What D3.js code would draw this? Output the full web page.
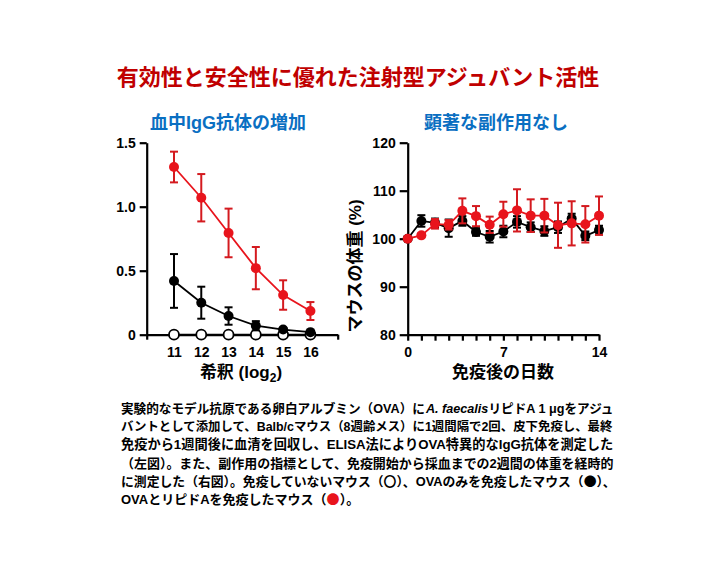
<!DOCTYPE html>
<html><head><meta charset="utf-8">
<script src="https://cdn.jsdelivr.net/npm/d3@7"></script>
<style>
body{margin:0;background:#fff;}
svg{display:block;font-family:"Liberation Sans","Noto Sans CJK JP",Arial,sans-serif;font-weight:bold;}
</style></head><body>
<svg id="c" width="718" height="569"></svg>
<script>
// ---- data ----
const dilution = [11, 12, 13, 14, 15, 16];
const igNone = [0, 0, 0, 0, 0, 0];
const igOVA = [0.42, 0.25, 0.146, 0.07, 0.04, 0.02];
const igOVAerr = [0.21, 0.125, 0.068, 0.036, 0.01, 0.005];
const igLipid = [1.31, 1.07, 0.795, 0.52, 0.31, 0.185];
const igLipidErr = [0.12, 0.185, 0.19, 0.165, 0.115, 0.07];
const leftYTicks = [0, 0.5, 1.0, 1.5];
const leftYTickLabels = ["0", "0.5", "1.0", "1.5"];

const days = [0,1,2,3,4,5,6,7,8,9,10,11,12,13,14];
const wOVA = [100, 103.7, 103.3, 102.2, 103.7, 101.4, 100.4, 101.5, 103.5, 102.4, 101.6, 102.4, 104.2, 100.6, 101.8];
const wOVAerr = [0, 1.2, 0.9, 1.8, 1.0, 0.8, 1.2, 1.2, 1.2, 1.0, 1.0, 1.2, 1.0, 0.9, 0.9];
const wLipid = [100, 100.7, 103.1, 102.9, 105.8, 104.7, 102.9, 105.1, 105.9, 104.8, 104.8, 102.8, 103.2, 103.0, 104.8];
const wLipidErr = [0, 0.4, 1.0, 1.0, 2.6, 2.1, 1.7, 2.6, 4.4, 3.4, 3.5, 4.7, 4.6, 3.8, 4.0];
const rightYTicks = [80, 90, 100, 110, 120];
const rightXTicks = [0, 7, 14];

const title = "有効性と安全性に優れた注射型アジュバント活性";
const subLeft = "血中IgG抗体の増加";
const subRight = "顕著な副作用なし";

const RED = "#e8141c", RED_ERR = "#d41a1f", BLUE = "#0a6fc2";
const svg = d3.select("#c");

svg.append("text").attr("x", 358).attr("y", 85).attr("text-anchor","middle")
  .attr("font-size", 22).attr("fill", "#c00000").text(title);
svg.append("text").attr("x", 228).attr("y", 129).attr("text-anchor","middle")
  .attr("font-size", 18).attr("fill", BLUE).text(subLeft);
svg.append("text").attr("x", 496).attr("y", 129).attr("text-anchor","middle")
  .attr("font-size", 18).attr("fill", BLUE).text(subRight);

// ---- left chart ----
const xL = d3.scaleLinear().domain([10, 17]).range([146.7, 337.7]);
const yL = d3.scaleLinear().domain([0, 1.5]).range([334.7, 142.7]);
const gL = svg.append("g");

const axL = gL.append("g").attr("transform", `translate(${xL(10)},0)`)
  .call(d3.axisLeft(yL).tickValues(leftYTicks).tickFormat((d,i)=>leftYTickLabels[i]).tickSize(7).tickSizeOuter(0));
const axLx = gL.append("g").attr("transform", `translate(0,${yL(0)})`)
  .call(d3.axisBottom(xL).tickValues(d3.range(10, 18)).tickFormat(d => dilution.includes(d) ? d : "").tickSize(5).tickSizeOuter(0).tickPadding(7));

// ---- right chart ----
const xR = d3.scaleLinear().domain([0, 14]).range([407.7, 599]);
const yR = d3.scaleLinear().domain([80, 120]).range([334.7, 142.7]);
const gR = svg.append("g");
const axR = gR.append("g").attr("transform", `translate(${xR(0)},0)`)
  .call(d3.axisLeft(yR).tickValues(rightYTicks).tickSize(8).tickSizeOuter(0));
const axRx = gR.append("g").attr("transform", `translate(0,${yR(80)})`)
  .call(d3.axisBottom(xR).tickValues(days).tickFormat(d => rightXTicks.includes(d) ? d : "").tickSize(6).tickSizeOuter(0).tickPadding(6));

[axL, axLx, axR, axRx].forEach(a => {
  a.selectAll("path,line").attr("stroke", "#000").attr("stroke-width", 2.2);
  a.selectAll("text").attr("font-size", 14).attr("font-weight","bold").attr("fill","#000")
    .attr("font-family", '"Liberation Sans",Arial,sans-serif');
});
axL.selectAll("text").attr("dx", -1);
axR.selectAll("text").attr("dx", -1);

// axis titles
const tL = svg.append("text").attr("x", 241).attr("y", 378).attr("text-anchor","middle").attr("font-size", 17);
tL.append("tspan").text("希釈 (log");
tL.append("tspan").attr("font-size", 12).attr("dy", 4).text("2");
tL.append("tspan").attr("dy", -4).text(")");
svg.append("text").attr("x", 503).attr("y", 378).attr("text-anchor","middle").attr("font-size", 17).text("免疫後の日数");
svg.append("text").attr("transform", "translate(361,266) rotate(-90)").attr("text-anchor","middle").attr("font-size", 17).text("マウスの体重 (%)");

function series(g, x, y, xs, ys, errs, color, errColor, fill, sw) {
  const line = d3.line().x((d,i)=>x(xs[i])).y(d=>y(d));
  if (errs) {
    const eg = g.append("g").attr("stroke", errColor).attr("stroke-width", 2);
    xs.forEach((xv, i) => {
      if (!errs[i]) return;
      const cx = x(xv), t = y(ys[i] + errs[i]), b = y(ys[i] - errs[i]);
      eg.append("line").attr("x1", cx).attr("x2", cx).attr("y1", t).attr("y2", b);
      eg.append("line").attr("x1", cx-4).attr("x2", cx+4).attr("y1", t).attr("y2", t);
      eg.append("line").attr("x1", cx-4).attr("x2", cx+4).attr("y1", b).attr("y2", b);
    });
  }
  g.append("path").datum(ys).attr("d", line).attr("fill","none").attr("stroke", color).attr("stroke-width", sw);
  g.selectAll(null).data(ys).enter().append("circle")
    .attr("cx", (d,i)=>x(xs[i])).attr("cy", d=>y(d)).attr("r", 5)
    .attr("fill", fill).attr("stroke", color).attr("stroke-width", fill === "#fff" ? 1.8 : 0);
}

series(gL, xL, yL, dilution, igNone, null, "#000", "#000", "#fff", 1.8);
series(gL, xL, yL, dilution, igOVA, igOVAerr, "#000", "#000", "#000", 1.8);
series(gL, xL, yL, dilution, igLipid, igLipidErr, RED, RED_ERR, RED, 1.8);

series(gR, xR, yR, days, wOVA, wOVAerr, "#000", "#000", "#000", 1.8);
series(gR, xR, yR, days, wLipid, wLipidErr, RED, RED_ERR, RED, 1.8);

// ---- caption ----
const capLines = [
  [["実験的なモデル抗原である卵白アルブミン（OVA）に",""],["A. faecalis","italic"],["リピドA 1 μgをアジュ",""]],
  [["バントとして添加して、Balb/cマウス（8週齢メス）に1週間隔で2回、皮下免疫し、最終",""]],
  [["免疫から1週間後に血清を回収し、ELISA法によりOVA特異的なIgG抗体を測定した",""]],
  [["（左図）。また、副作用の指標として、免疫開始から採血までの2週間の体重を経時的",""]],
  [["に測定した（右図）。免疫していないマウス（",""],["〇","sym"],["）、OVAのみを免疫したマウス（",""],["●","sym"],["）、",""]],
  [["OVAとリピドAを免疫したマウス（",""],["●","red"],["）。",""]]
];
const capWidths = [492, 492, 493, 493, 495, 0];
capLines.forEach((parts, i) => {
  const t = svg.append("text").attr("x", 121).attr("y", 413 + i*18.2).attr("font-size", 13).attr("fill", "#000");
  parts.forEach(([s, st]) => {
    const sp = t.append("tspan").text(s);
    if (st === "italic") sp.attr("font-style", "italic").attr("dx", 1);
    if (st === "sym" || st === "red") sp.attr("font-family", '"Noto Sans CJK JP",sans-serif');
    if (st === "red") sp.attr("fill", RED);
  });
  if (capWidths[i]) {
    const w = t.node().getComputedTextLength();
    t.attr("font-size", Math.min(14, 13 * capWidths[i] / w));
  }
});
</script>
</body></html>
